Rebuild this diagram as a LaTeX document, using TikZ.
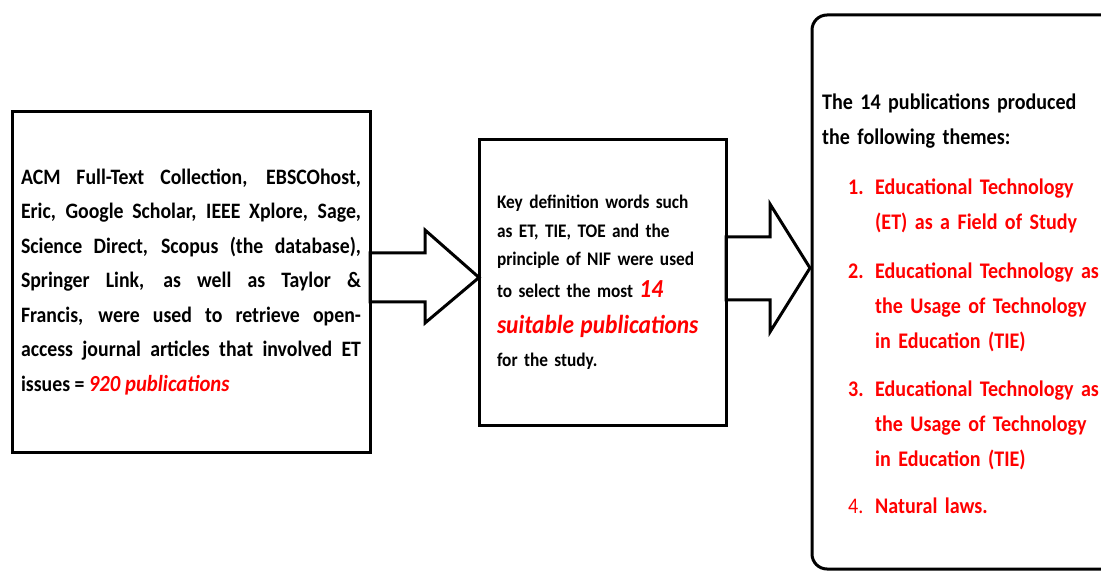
\documentclass[tikz,border=0pt]{standalone}
\usepackage{fontspec}
\setmainfont{Carlito}[FakeStretch=0.9]
\usetikzlibrary{calc}
\tikzset{
  panel/.style={draw, line width=3pt, outer sep=0pt, inner sep=0pt},
  blockarrow/.style={draw, line width=3pt, line join=miter}
}
\newcommand{\hit}[1]{{\color{red}\itshape #1}}
\begin{document}
\begin{tikzpicture}[x=1pt,y=-1pt]
    \useasboundingbox (0,0) rectangle (1101,572);
    \clip (0,0) rectangle (1101,572);
    \node[panel, minimum width=358pt, minimum height=340pt, text width=340pt, align=justify,
          font=\bfseries\fontsize{22}{34.5}\selectfont] (src) at (191,282)
        {ACM Full-Text Collection, EBSCOhost,\linebreak
         Eric, Google Scholar, IEEE Xplore, Sage,\linebreak
         Science Direct, Scopus (the database),\linebreak
         Springer Link, as well as Taylor \&\linebreak
         Francis, were used to retrieve open-\linebreak
         access journal articles that involved ET\linebreak
         issues = {\fontsize{23}{34.5}\selectfont\hit{920 publications}}};
    \node[panel, minimum width=247pt, minimum height=285pt, text width=211pt, align=left,
          font=\bfseries\fontsize{19.2}{28.5}\selectfont] (mid) at (602.5,282.5)
        {Key definition words such\\
         as ET, TIE, TOE and the\\
         principle of NIF were used\\[3pt]
         to select the most {\fontsize{26}{28.5}\selectfont\hit{14}}\\[8pt]
         {\fontsize{26}{28.5}\selectfont\hit{suitable publications}}\\[4pt]
         for the study.};
    \node[panel, rounded corners=15pt, minimum width=340pt, minimum height=554pt, anchor=north west] (res) at (812,15) {};
    \node[anchor=north west, inner sep=0pt, text width=400pt, align=left,
          font=\bfseries\fontsize{22.3}{35}\selectfont] (themes) at (822,94)
        {The 14 publications produced\\
         the following themes:\\[15pt]
         \color{red}\hspace*{26pt}\makebox[27pt][l]{1.}Educational Technology\\
         \hspace*{53pt}(ET) as a Field of Study\\[14pt]
         \hspace*{26pt}\makebox[27pt][l]{2.}Educational Technology as\\
         \hspace*{53pt}the Usage of Technology\\
         \hspace*{53pt}in Education (TIE)\\[13pt]
         \hspace*{26pt}\makebox[27pt][l]{3.}Educational Technology as\\
         \hspace*{53pt}the Usage of Technology\\
         \hspace*{53pt}in Education (TIE)\\[12pt]
         \hspace*{26pt}\makebox[27pt][l]{\mdseries 4.}Natural laws.};
    \draw[blockarrow] (src.east) ++(0,-29) -- ++(55,0) -- ++(0,-23) -- ($(mid.west)+(0,-5)$)
        -- ++(-54,45.5) -- ++(0,-21) -- ++(-55,0) -- cycle;
    \draw[blockarrow] (mid.east) ++(0,-45.5) -- ++(44,0) -- ++(0,-33) -- ($(res.west)+(-2,-24)$)
        -- ++(-40,64) -- ++(0,-32) -- ++(-44,0) -- cycle;
\end{tikzpicture}
\end{document}
